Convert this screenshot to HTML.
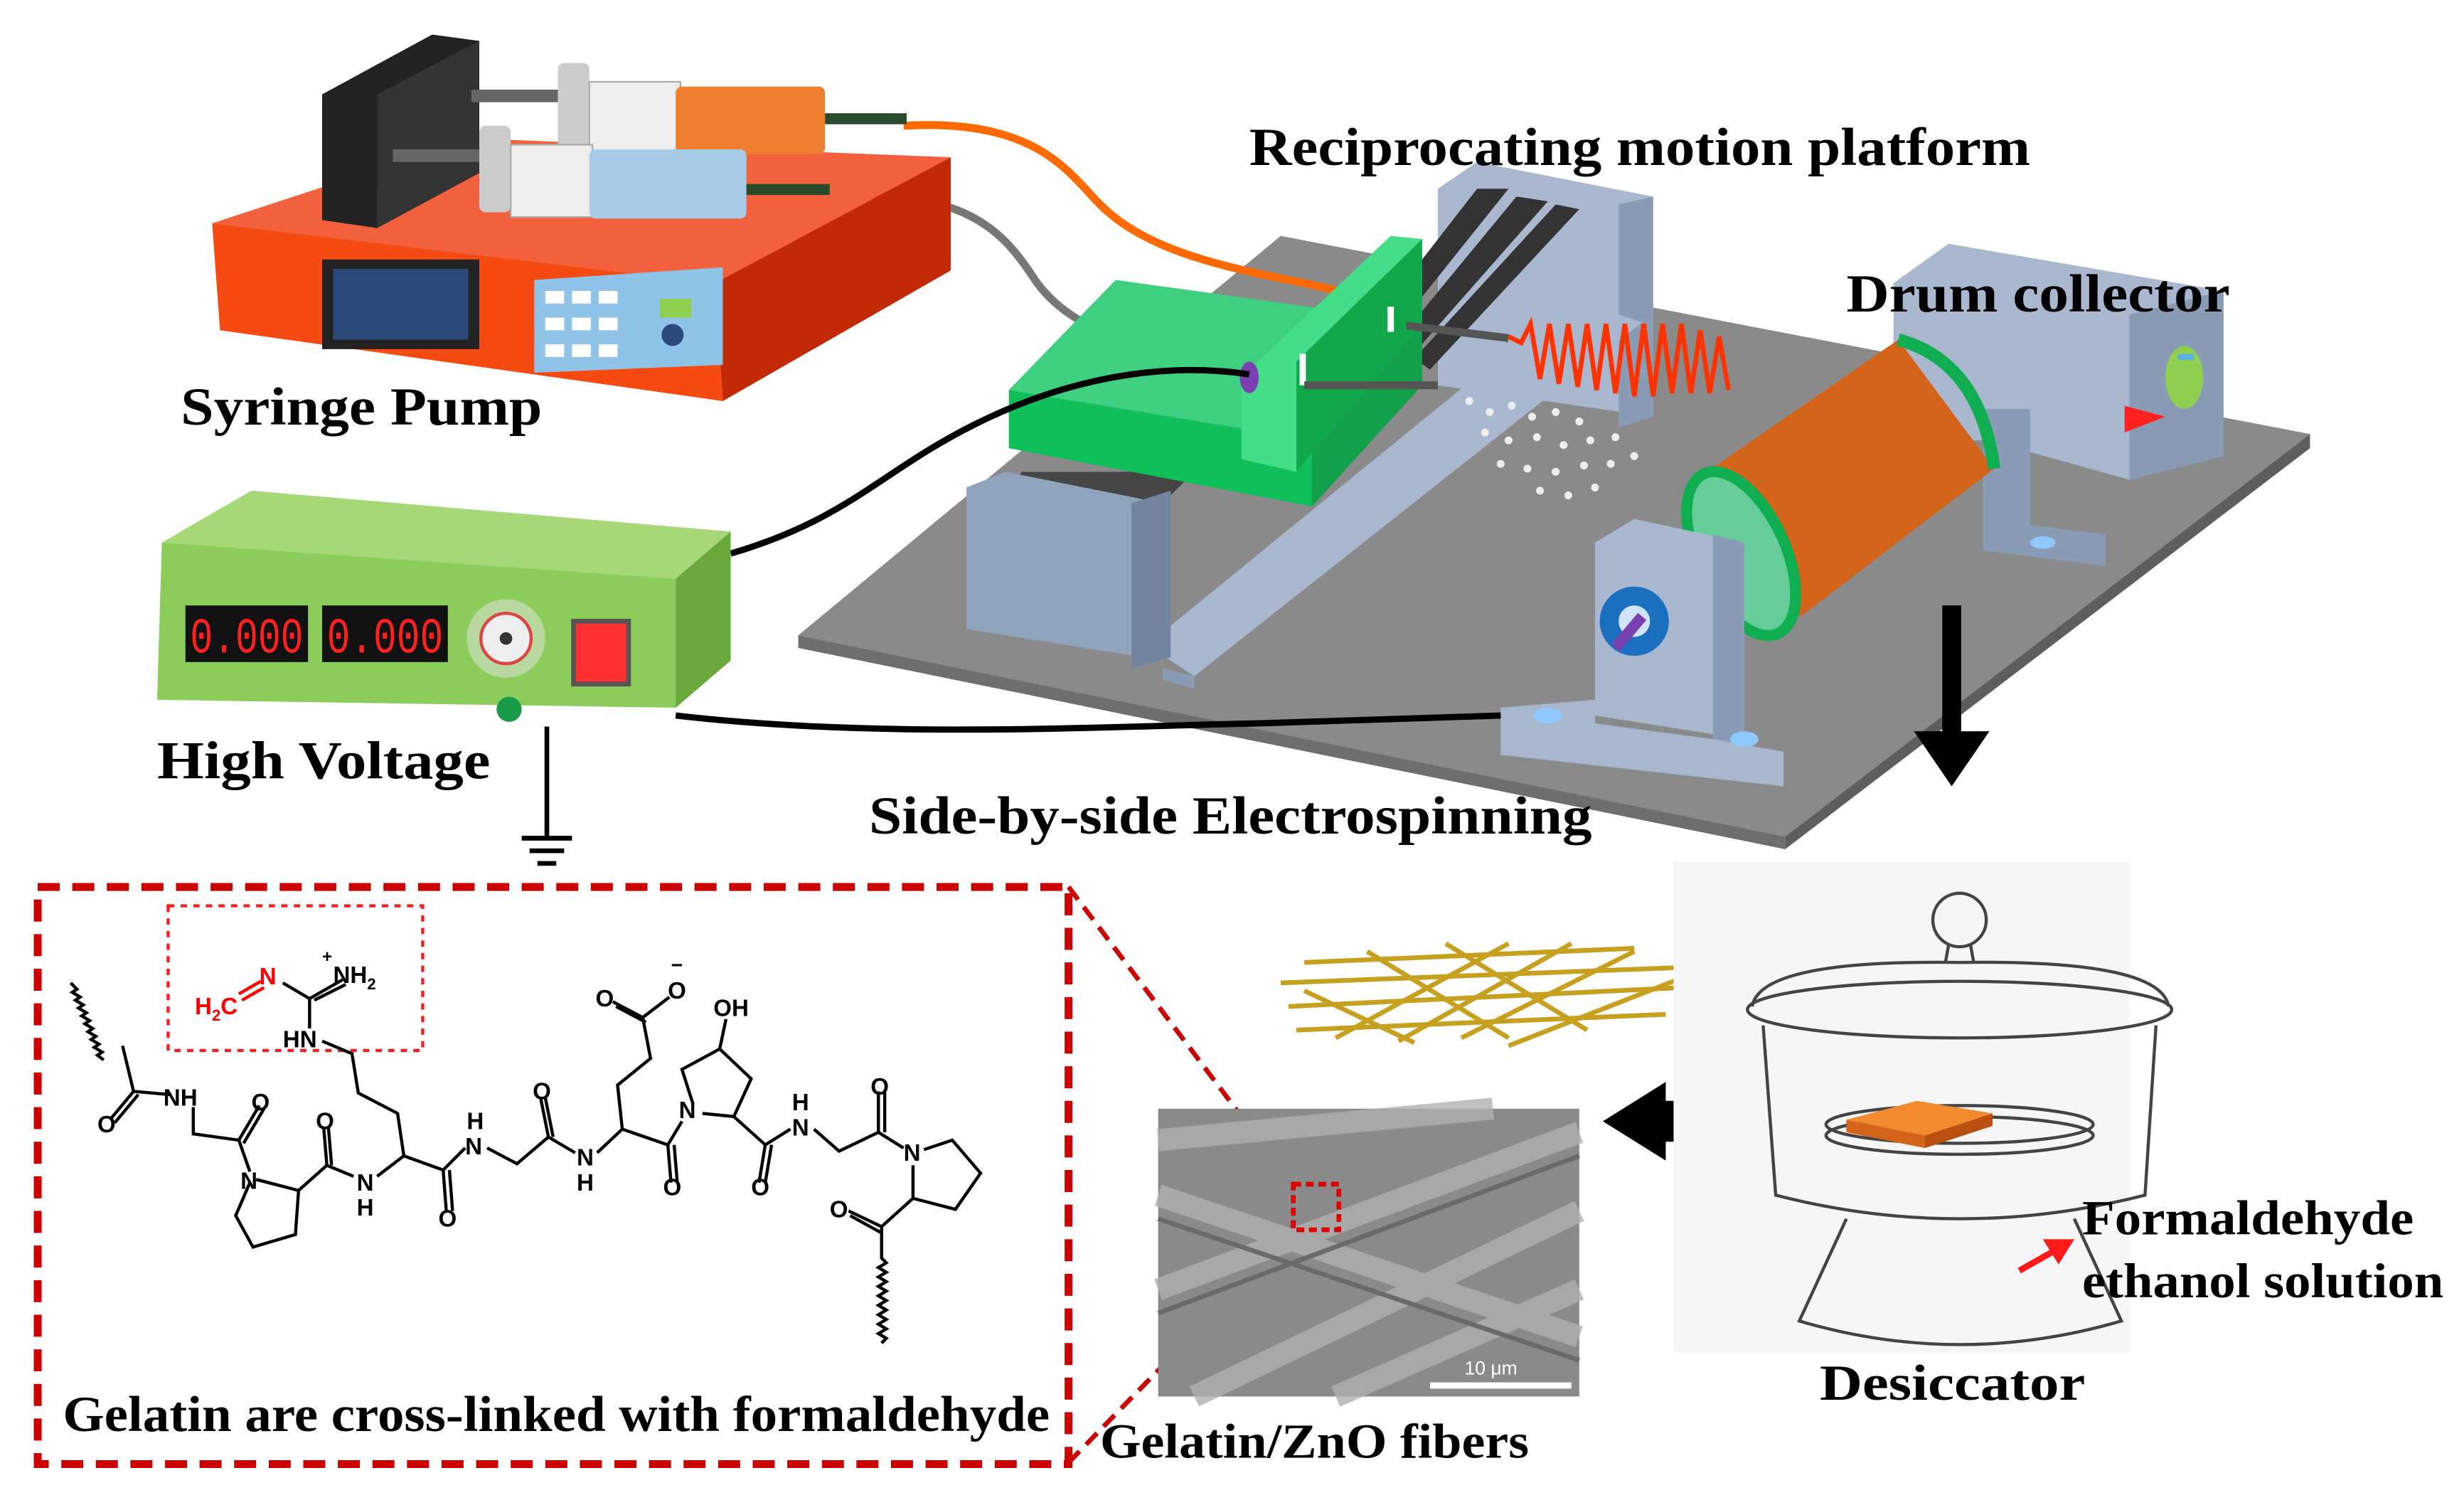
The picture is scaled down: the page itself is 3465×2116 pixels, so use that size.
<!DOCTYPE html>
<html><head><meta charset="utf-8"><style>html,body{margin:0;padding:0;background:#fff}svg{display:block}
.serif{font-family:"Liberation Serif","Times New Roman",serif;font-weight:bold}
.sans{font-family:"Liberation Sans",Arial,sans-serif;font-weight:bold}
</style></head>
<body>
<svg width="3465" height="2116" viewBox="0 0 1568 957" preserveAspectRatio="none" xmlns="http://www.w3.org/2000/svg">
<rect width="1568" height="957" fill="#fff"/>
<g fill="#000">
<!-- Platform plate -->
<polygon points="508,404 815,150 1470,276 1136,532" fill="#8a8a8a"/>
<polygon points="508,404 1136,532 1136,540 508,412" fill="#6e6e6e"/>
<polygon points="1136,532 1470,276 1470,285 1136,540" fill="#5e5e5e"/>

<!-- Back upright of reciprocating platform -->
<polygon points="915,120 940,103 1052,125 1052,265 915,245" fill="#a9b8cf"/>
<polygon points="1030,130 1052,125 1052,265 1030,272" fill="#8a9bb5"/>
<polygon points="940,120 960,120 880,220 870,210" fill="#333"/>
<polygon points="965,125 985,128 895,230 885,222" fill="#333"/>
<polygon points="990,130 1005,133 910,235 900,228" fill="#333"/>
<!-- long rail -->
<polygon points="730,410 1000,190 1045,205 760,430" fill="#a9b8cf"/>
<polygon points="740,425 760,430 760,438 740,432" fill="#8a9bb5"/>
<polygon points="650,300 760,300 740,320 640,320" fill="#333" opacity=".8"/>
<!-- front block -->
<polygon points="615,310 640,300 740,320 740,420 615,400" fill="#8fa3bd"/>
<polygon points="720,320 745,312 745,418 720,425" fill="#72849e"/>

<!-- tubes -->
<path d="M575,80 C660,75 680,110 700,130 C730,160 780,170 830,180 L900,196" stroke="#ff6a00" stroke-width="5" fill="none"/>
<path d="M528,124 C620,120 640,150 660,180 C690,220 750,225 800,232 L900,240" stroke="#777" stroke-width="5" fill="none"/>

<!-- green carriage -->
<polygon points="642,248 710,178 905,205 835,280" fill="#3fcf80"/>
<polygon points="642,248 835,280 835,322 642,285" fill="#0fbf5a"/>
<polygon points="835,280 905,205 905,245 835,322" fill="#12a04a"/>
<polygon points="790,240 885,150 905,152 905,205 825,300 790,292" fill="#44dd88"/>
<polygon points="825,230 905,152 905,205 825,300" fill="#11a84c"/>
<rect x="827" y="225" width="4" height="20" fill="#fff"/>
<rect x="883" y="195" width="4" height="16" fill="#fff"/>
<line x1="830" y1="245" x2="915" y2="245" stroke="#555" stroke-width="5"/>
<line x1="895" y1="207" x2="960" y2="215" stroke="#555" stroke-width="5"/>
<ellipse cx="795" cy="240" rx="6" ry="10" fill="#7a3fb0"/>
<path d="M960,214 l8,4 l6,-12 l6,35 l6,-35 l6,38 l6,-38 l6,40 l6,-40 l6,42 l6,-42 l6,44 l6,-44 l6,46 l6,-46 l6,46 l6,-46 l6,44 l6,-44 l6,44 l6,-40 l6,40 l6,-36 l6,34" stroke="#ff3300" stroke-width="3" fill="none"/>
<g fill="#eee">
<circle cx="935" cy="255" r="2.5"/><circle cx="948" cy="262" r="2.5"/><circle cx="962" cy="258" r="2.5"/><circle cx="975" cy="265" r="2.5"/><circle cx="990" cy="262" r="2.5"/><circle cx="1005" cy="268" r="2.5"/><circle cx="945" cy="275" r="2.5"/><circle cx="960" cy="280" r="2.5"/><circle cx="978" cy="278" r="2.5"/><circle cx="995" cy="283" r="2.5"/><circle cx="1012" cy="280" r="2.5"/><circle cx="1028" cy="278" r="2.5"/><circle cx="955" cy="295" r="2.5"/><circle cx="972" cy="298" r="2.5"/><circle cx="990" cy="300" r="2.5"/><circle cx="1008" cy="296" r="2.5"/><circle cx="1025" cy="295" r="2.5"/><circle cx="980" cy="312" r="2.5"/><circle cx="998" cy="315" r="2.5"/><circle cx="1015" cy="310" r="2.5"/><circle cx="1040" cy="290" r="2.5"/>
</g>

<!-- back drum holder -->
<polygon points="1205,180 1240,155 1415,185 1415,290 1355,305 1265,280 1205,280" fill="#a9b8cf"/>
<polygon points="1355,200 1415,185 1415,290 1355,305" fill="#8a9bb5"/>
<rect x="1262" y="260" width="30" height="80" fill="#8a9bb5"/>
<polygon points="1262,330 1340,340 1340,360 1262,350" fill="#8a9bb5"/>
<ellipse cx="1300" cy="345" rx="8" ry="4" fill="#8fc8ff"/>
<ellipse cx="1390" cy="240" rx="12" ry="20" fill="#90d050"/>
<rect x="1386" y="225" width="10" height="4" fill="#5ab0e0"/>
<polygon points="1352,258 1378,265 1352,275" fill="#ff2020"/>
<!-- drum -->
<polygon points="1085,301 1208,216 1269,298 1146,392" fill="#d4641a"/>
<path d="M1208,216 Q1260,230 1269,298" stroke="#0fae50" stroke-width="8" fill="none"/>
<ellipse cx="1108" cy="352" rx="28" ry="56" transform="rotate(-25 1108 352)" fill="#66cc99" stroke="#0fae50" stroke-width="7"/>
<!-- front pedestal -->
<polygon points="1015,345 1040,330 1110,345 1110,470 1015,455" fill="#a9b8cf"/>
<polygon points="1090,340 1110,345 1110,470 1090,475" fill="#8a9bb5"/>
<polygon points="955,450 1015,445 1015,460 1090,470 1135,478 1135,500 955,480" fill="#a9b8cf"/>
<ellipse cx="985" cy="455" rx="9" ry="5" fill="#8fc8ff"/>
<ellipse cx="1110" cy="470" rx="9" ry="5" fill="#8fc8ff"/>
<circle cx="1040" cy="395" r="22" fill="#1a6fc0"/>
<circle cx="1040" cy="395" r="10" fill="#d0e4ff"/>
<line x1="1045" y1="392" x2="1028" y2="412" stroke="#7a3fb0" stroke-width="7"/>
<!-- down arrow -->
<rect x="1236" y="385" width="12" height="85" fill="#000"/>
<polygon points="1218,465 1266,465 1242,500" fill="#000"/>

<!-- Syringe pump -->
<polygon points="135,142 300,88 605,100 455,180" fill="#f2603e"/>
<polygon points="135,142 455,180 460,255 140,210" fill="#f54a12"/>
<polygon points="455,180 605,100 605,172 460,255" fill="#c22a06"/>
<polygon points="205,60 275,22 305,26 305,110 240,145 205,140" fill="#222"/>
<polygon points="240,60 305,26 305,110 240,145" fill="#333"/>
<rect x="205" y="165" width="100" height="57" fill="#222"/>
<rect x="212" y="171" width="86" height="45" fill="#2b4a78"/>
<polygon points="340,178 460,170 460,232 340,237" fill="#8fc3e8"/>
<g fill="#fff"><rect x="347" y="185" width="12" height="8"/><rect x="364" y="185" width="12" height="8"/><rect x="381" y="185" width="12" height="8"/><rect x="347" y="202" width="12" height="8"/><rect x="364" y="202" width="12" height="8"/><rect x="381" y="202" width="12" height="8"/><rect x="347" y="219" width="12" height="8"/><rect x="364" y="219" width="12" height="8"/><rect x="381" y="219" width="12" height="8"/></g>
<rect x="420" y="190" width="20" height="12" fill="#8fd050"/><circle cx="428" cy="213" r="7" fill="#2b4a78"/>
<!-- syringes -->
<rect x="300" y="57" width="60" height="8" fill="#666"/>
<rect x="355" y="40" width="20" height="55" rx="4" fill="#ccc"/>
<rect x="375" y="52" width="58" height="46" fill="#eee" stroke="#aaa"/>
<rect x="430" y="55" width="95" height="43" rx="4" fill="#f08030"/>
<rect x="525" y="72" width="52" height="7" fill="#2b4a2b"/>
<rect x="250" y="95" width="58" height="8" fill="#666"/>
<rect x="305" y="80" width="20" height="55" rx="4" fill="#ccc"/>
<rect x="325" y="92" width="52" height="46" fill="#eee" stroke="#aaa"/>
<rect x="375" y="95" width="100" height="44" rx="4" fill="#a8cce8"/>
<rect x="475" y="117" width="53" height="7" fill="#2b4a2b"/>

<!-- black cables -->
<path d="M465,352 C540,330 560,300 620,270 C680,240 740,230 795,238" stroke="#000" stroke-width="4" fill="none"/>
<path d="M430,455 C560,470 700,462 800,460 L955,455" stroke="#000" stroke-width="4" fill="none"/>

<!-- High voltage -->
<polygon points="103,345 160,312 465,338 430,368" fill="#a6d877"/>
<polygon points="103,345 430,368 430,450 100,445" fill="#8ccc5a"/>
<polygon points="430,368 465,338 465,420 430,450" fill="#6aa83c"/>
<rect x="118" y="385" width="78" height="36" fill="#111"/>
<rect x="205" y="385" width="80" height="36" fill="#111"/>
<text x="121" y="415" style="font-family:'Liberation Mono',monospace" font-size="32" fill="#ff2020" textLength="72" lengthAdjust="spacingAndGlyphs">0.000</text>
<text x="208" y="415" style="font-family:'Liberation Mono',monospace" font-size="32" fill="#ff2020" textLength="74" lengthAdjust="spacingAndGlyphs">0.000</text>
<circle cx="322" cy="406" r="25" fill="#b8d8a0"/>
<circle cx="322" cy="406" r="16" fill="#eee" stroke="#d44" stroke-width="2"/>
<circle cx="322" cy="406" r="4" fill="#333"/>
<rect x="365" y="395" width="35" height="40" fill="#ff3030" stroke="#555" stroke-width="3"/>
<circle cx="324" cy="451" r="8" fill="#1a9b4a"/>
<!-- ground -->
<line x1="348" y1="462" x2="348" y2="532" stroke="#000" stroke-width="3"/>
<line x1="332" y1="533" x2="364" y2="533" stroke="#000" stroke-width="3"/>
<line x1="337" y1="541" x2="359" y2="541" stroke="#000" stroke-width="3"/>
<line x1="342" y1="549" x2="354" y2="549" stroke="#000" stroke-width="3"/>

<!-- labels top -->
<g class="serif">
<text x="795" y="105" font-size="34" textLength="497" lengthAdjust="spacingAndGlyphs">Reciprocating motion platform</text>
<text x="1175" y="198" font-size="34" textLength="244" lengthAdjust="spacingAndGlyphs">Drum collector</text>
<text x="115" y="270" font-size="34" textLength="230" lengthAdjust="spacingAndGlyphs">Syringe Pump</text>
<text x="100" y="495" font-size="34" textLength="212" lengthAdjust="spacingAndGlyphs">High Voltage</text>
<text x="553" y="530" font-size="34" textLength="460" lengthAdjust="spacingAndGlyphs">Side-by-side Electrospinning</text>
</g>

<!-- bottom-left box -->
<rect x="24" y="564" width="656" height="367" fill="none" stroke="#cc0000" stroke-width="5" stroke-dasharray="14,8"/>
<rect x="107" y="576" width="162" height="92" fill="none" stroke="#ee2222" stroke-width="2" stroke-dasharray="4,4"/>
<line x1="680" y1="564" x2="824" y2="755" stroke="#cc0000" stroke-width="3" stroke-dasharray="10,6"/>
<line x1="680" y1="930" x2="824" y2="782" stroke="#cc0000" stroke-width="3" stroke-dasharray="10,6"/>
<text class="serif" x="40" y="910" font-size="32" textLength="628" lengthAdjust="spacingAndGlyphs">Gelatin are cross-linked with formaldehyde</text>

<!-- chemical structure -->
<g stroke="#000" stroke-width="2" fill="none">
<path d="M45,625 l4,4 l-3,2 l5,3 l-3,2 l5,3 l-3,2 l5,3 l-3,2 l5,3 l-3,2 l5,3 l-3,2 l5,3 l-3,2 l5,3 l-3,2 l5,3 l-3,2 l4,3"/>
<path d="M78,665 L85,694 L108,696 M85,694 L70,712 M88,696 L73,714"/>
<path d="M123,704 L123,721 L152,725 L165,703 M155,727 L168,705 M152,725 L159,745"/>
<path d="M159,752 L150,773 L161,793 L188,785 L190,757 L163,750 M190,757 L208,741 L206,717 M211,741 L209,717 M208,741 L225,748"/>
<path d="M240,748 L257,735 L282,744 L284,770 M286,744 L288,770 M257,735 L253,708 L228,695 L224,670 L205,662 M197,654 L197,635 L218,623 M200,636 L220,626 M197,635 L180,625"/>
<path d="M282,744 L296,730 M310,730 L329,740 L349,723 L344,698 M352,723 L347,698 M349,723 L366,733 M380,733 L396,718 L393,690 L414,673 L409,647 L390,637 M411,650 L392,640 M409,647 L426,634"/>
<path d="M396,718 L425,728 L427,752 M429,728 L431,752 M425,728 L434,713 M441,702 L434,680 L458,667 L478,686 L467,710 L447,708 M458,667 L462,648 M467,710 L487,728 L483,752 M491,728 L487,752 M487,728 L503,718"/>
<path d="M518,718 L534,732 L559,720 L559,694 M563,720 L563,694 M559,720 L575,730 M588,731 L606,725 L624,746 L608,769 L581,762 L581,741 M581,762 L561,780 L540,770 M561,784 L541,773"/>
<path d="M561,780 L561,800 l3,3 l-5,3 l5,3 l-5,3 l5,3 l-5,3 l5,3 l-5,3 l5,3 l-5,3 l5,3 l-5,3 l5,3 l-5,3 l5,3 l-5,3 l5,3 l-3,3"/>
</g>
<g class="sans" font-size="15">
<text x="104" y="703">NH</text><text x="62" y="720">O</text><text x="160" y="706">O</text><text x="153" y="756">N</text>
<text x="201" y="718">O</text><text x="227" y="757">N</text><text x="227" y="773">H</text><text x="279" y="780">O</text>
<text x="296" y="734">N</text><text x="297" y="718">H</text><text x="339" y="699">O</text><text x="367" y="741">N</text><text x="367" y="757">H</text>
<text x="379" y="640">O</text><text x="425" y="635">O</text><text x="427" y="618" font-size="13">−</text><text x="454" y="646">OH</text>
<text x="422" y="760">O</text><text x="432" y="711">N</text><text x="478" y="760">O</text><text x="504" y="722">N</text><text x="504" y="706">H</text>
<text x="554" y="696">O</text><text x="575" y="738">N</text><text x="528" y="774">O</text>
<text x="180" y="666">HN</text><text x="212" y="625">NH<tspan font-size="10" dy="4">2</tspan></text><text x="205" y="612" font-size="11">+</text>
<text x="165" y="626" fill="#ff0000">N</text><text x="124" y="645" fill="#ff0000">H<tspan font-size="10" dy="4">2</tspan><tspan dy="-4">C</tspan></text>
</g>
<path d="M152,632 L166,624 M154,636 L168,628" stroke="#ff0000" stroke-width="2"/>

<!-- fiber mesh -->
<g stroke="#c8a020" stroke-width="3">
<line x1="815" y1="625" x2="1075" y2="615"/><line x1="820" y1="640" x2="1070" y2="628"/><line x1="825" y1="655" x2="1060" y2="645"/><line x1="830" y1="612" x2="1040" y2="603"/>
<line x1="850" y1="660" x2="960" y2="600"/><line x1="890" y1="662" x2="1000" y2="600"/><line x1="930" y1="660" x2="1040" y2="605"/><line x1="960" y1="665" x2="1075" y2="620"/>
<line x1="870" y1="605" x2="960" y2="660"/><line x1="920" y1="600" x2="1010" y2="655"/><line x1="830" y1="630" x2="900" y2="663"/>
</g>
<!-- SEM image -->
<rect x="737" y="705" width="268" height="183" fill="#8a8a8a"/>
<g stroke="#b0b0b0" stroke-width="14" opacity=".8">
<line x1="737" y1="760" x2="1005" y2="850"/><line x1="737" y1="820" x2="1005" y2="720"/><line x1="760" y1="888" x2="1005" y2="770"/><line x1="737" y1="725" x2="950" y2="705"/><line x1="850" y1="888" x2="1005" y2="820"/>
</g>
<g stroke="#6a6a6a" stroke-width="3"><line x1="737" y1="775" x2="1005" y2="865"/><line x1="737" y1="835" x2="1005" y2="735"/></g>
<rect x="823" y="753" width="29" height="29" fill="none" stroke="#dd0000" stroke-width="3" stroke-dasharray="5,3"/>
<rect x="910" y="879" width="90" height="4" fill="#fff"/>
<text x="932" y="874" style="font-family:'Liberation Sans',sans-serif" font-size="12" fill="#fff">10 μm</text>
<text class="serif" x="700" y="927" font-size="31" textLength="273" lengthAdjust="spacingAndGlyphs">Gelatin/ZnO fibers</text>
<!-- left arrow -->
<rect x="1058" y="700" width="58" height="26" fill="#000"/>
<polygon points="1060,688 1020,713 1060,738" fill="#000"/>

<!-- Desiccator -->
<rect x="1065" y="548" width="290" height="312" fill="#f6f6f6"/>
<g stroke="#444" stroke-width="2" fill="none">
<circle cx="1247" cy="585" r="17"/>
<path d="M1240,601 L1238,612 M1254,601 L1256,612"/>
<path d="M1115,640 Q1120,610 1247,612 Q1375,610 1380,640"/>
<ellipse cx="1247" cy="642" rx="135" ry="18"/>
<path d="M1122,652 L1130,760 Q1247,790 1365,760 L1372,652"/>
<ellipse cx="1247" cy="715" rx="85" ry="12"/>
<ellipse cx="1247" cy="722" rx="85" ry="12"/>
<path d="M1175,775 L1145,840 Q1247,870 1350,840 L1320,775"/>
</g>
<polygon points="1175,712 1220,700 1268,708 1225,722" fill="#f28a30"/>
<polygon points="1175,712 1225,722 1225,730 1175,720" fill="#d4641a"/>
<polygon points="1225,722 1268,708 1268,716 1225,730" fill="#b85010"/>
<line x1="1285" y1="808" x2="1308" y2="795" stroke="#ff1a1a" stroke-width="4"/>
<polygon points="1320,788 1300,788 1310,804" fill="#ff1a1a"/>
<g class="serif">
<text x="1325" y="785" font-size="31" textLength="211" lengthAdjust="spacingAndGlyphs">Formaldehyde</text>
<text x="1325" y="825" font-size="31" textLength="230" lengthAdjust="spacingAndGlyphs">ethanol solution</text>
<text x="1158" y="890" font-size="32" textLength="169" lengthAdjust="spacingAndGlyphs">Desiccator</text>
</g>
</g>
</svg>
</body></html>
